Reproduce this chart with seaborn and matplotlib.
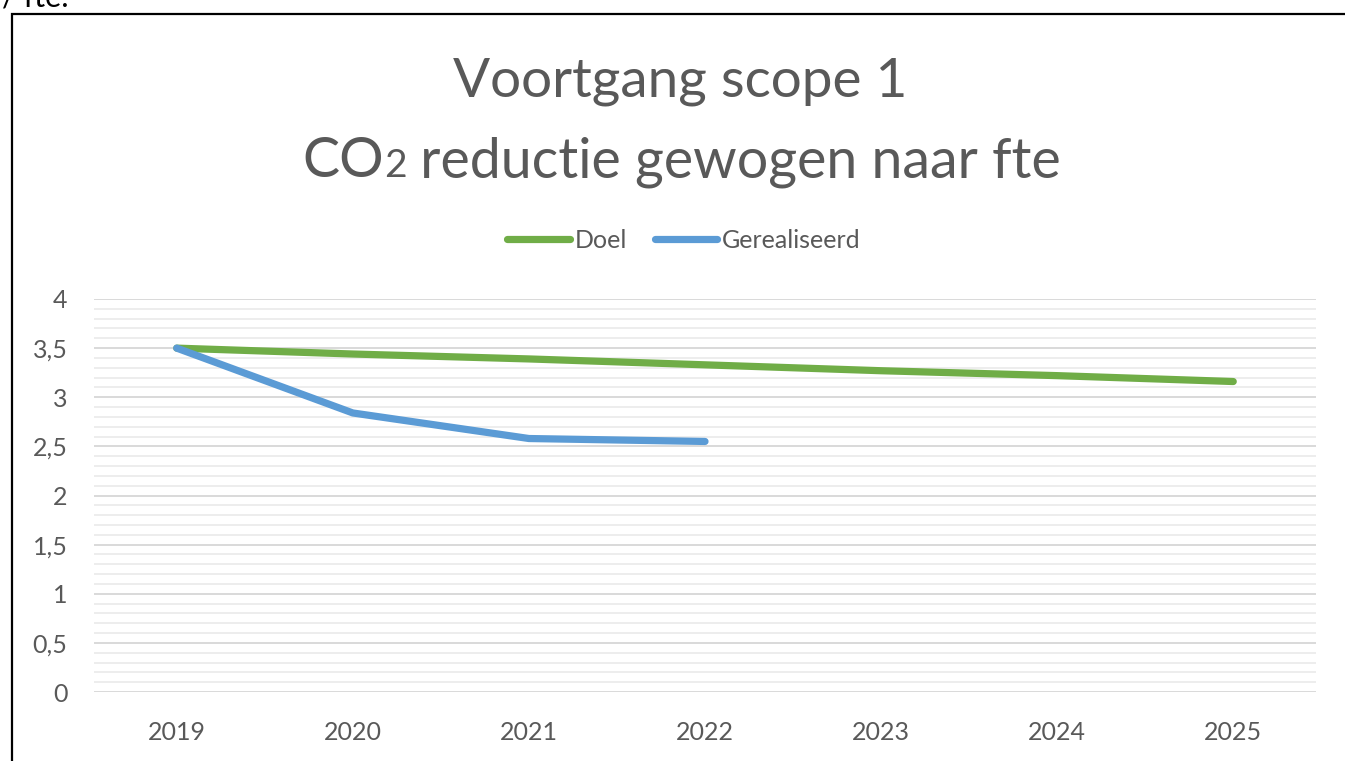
import matplotlib
matplotlib.use("Agg")
import matplotlib.pyplot as plt
import seaborn as sns
import pandas as pd
from matplotlib.patches import Rectangle
from matplotlib.lines import Line2D
from matplotlib.ticker import FixedLocator, FixedFormatter, MultipleLocator

# ---------------- data ----------------
years = ["2019", "2020", "2021", "2022", "2023", "2024", "2025"]
doel = [3.50, 3.44, 3.39, 3.33, 3.27, 3.22, 3.16]
gerealiseerd_years = ["2019", "2020", "2021", "2022"]
gerealiseerd = [3.50, 2.84, 2.58, 2.55]
series_names = ["Doel", "Gerealiseerd"]
y_ticks = [0, 0.5, 1, 1.5, 2, 2.5, 3, 3.5, 4]
y_tick_labels = ["0", "0,5", "1", "1,5", "2", "2,5", "3", "3,5", "4"]
title_line1 = "Voortgang scope 1"
title_line2_parts = ["CO", "2", " reductie gewogen naar fte"]
clipped_text = "/ fte."

# ---------------- style ----------------
sns.set_style("white")
plt.rcParams["font.family"] = ["Lato", "DejaVu Sans"]
GREEN = "#70AD47"
BLUE = "#5B9BD5"
TXT = "#595959"

W, H = 1345, 761
fig = plt.figure(figsize=(W / 100, H / 100), dpi=100)
fig.patch.set_facecolor("white")

def fx(px):
    return px / W

def fy(py):
    return 1 - py / H

ax = fig.add_axes([fx(94), fy(692), fx(1316) - fx(94), fy(299) - fy(692)])

rows = []
for y, v in zip(years, doel):
    rows.append({"pos": years.index(y), "value": v, "series": series_names[0]})
for y, v in zip(gerealiseerd_years, gerealiseerd):
    rows.append({"pos": years.index(y), "value": v, "series": series_names[1]})
df = pd.DataFrame(rows)

sns.lineplot(data=df, x="pos", y="value", hue="series",
             palette={series_names[0]: GREEN, series_names[1]: BLUE},
             hue_order=series_names, linewidth=5.2, legend=False, ax=ax,
             solid_capstyle="round", solid_joinstyle="round", zorder=3)

ax.set_xlim(-0.47, len(years) - 0.53)
ax.set_ylim(0, 4)
ax.xaxis.set_major_locator(FixedLocator(list(range(len(years)))))
ax.xaxis.set_major_formatter(FixedFormatter(years))
ax.yaxis.set_major_locator(FixedLocator(y_ticks))
ax.yaxis.set_major_formatter(FixedFormatter(y_tick_labels))
ax.yaxis.set_minor_locator(MultipleLocator(0.1))
ax.set_xlabel("")
ax.set_ylabel("")
for s in ax.spines.values():
    s.set_visible(False)
ax.grid(False)
ax.grid(which="major", axis="y", color="#D9D9D9", linewidth=1.4, zorder=1)
ax.grid(which="minor", axis="y", color="#EDEDED", linewidth=1.4, zorder=0)
ax.set_axisbelow(True)
ax.tick_params(axis="both", which="both", length=0)
ax.tick_params(axis="y", pad=19, labelsize=18, labelcolor=TXT)
ax.tick_params(axis="x", pad=21, labelsize=18, labelcolor=TXT)

# legend
handles = [Line2D([0], [0], color=c, lw=5.2, solid_capstyle="round")
           for c in (GREEN, BLUE)]
leg = fig.legend(handles, series_names, loc="center",
                 bbox_to_anchor=(fx(684), fy(240)), ncol=2, frameon=False,
                 fontsize=18, handlelength=2.5, handletextpad=0.2,
                 columnspacing=1.1)
for t in leg.get_texts():
    t.set_color(TXT)

# title
fig.text(fx(680), fy(96), title_line1, ha="center", va="baseline",
         fontsize=39.5, color=TXT)

fig.canvas.draw()
renderer = fig.canvas.get_renderer()
sizes = [40, 28, 40]
texts = [fig.text(0, fy(177), p, ha="left", va="baseline", fontsize=s, color=TXT)
         for p, s in zip(title_line2_parts, sizes)]
widths = [t.get_window_extent(renderer).width for t in texts]
start = 681.5 - sum(widths) / 2
for t, w in zip(texts, widths):
    t.set_x(fx(start))
    start += w

# clipped text at top-left and chart border
fig.text(fx(2), fy(6), clipped_text, ha="left", va="baseline", fontsize=22,
         color="black")
fig.patches.append(Rectangle((fx(12), fy(900)), fx(1500), fy(14) - fy(900),
                             transform=fig.transFigure, fill=False,
                             edgecolor="black", linewidth=1.6))

fig.savefig("out.png", dpi=100)
